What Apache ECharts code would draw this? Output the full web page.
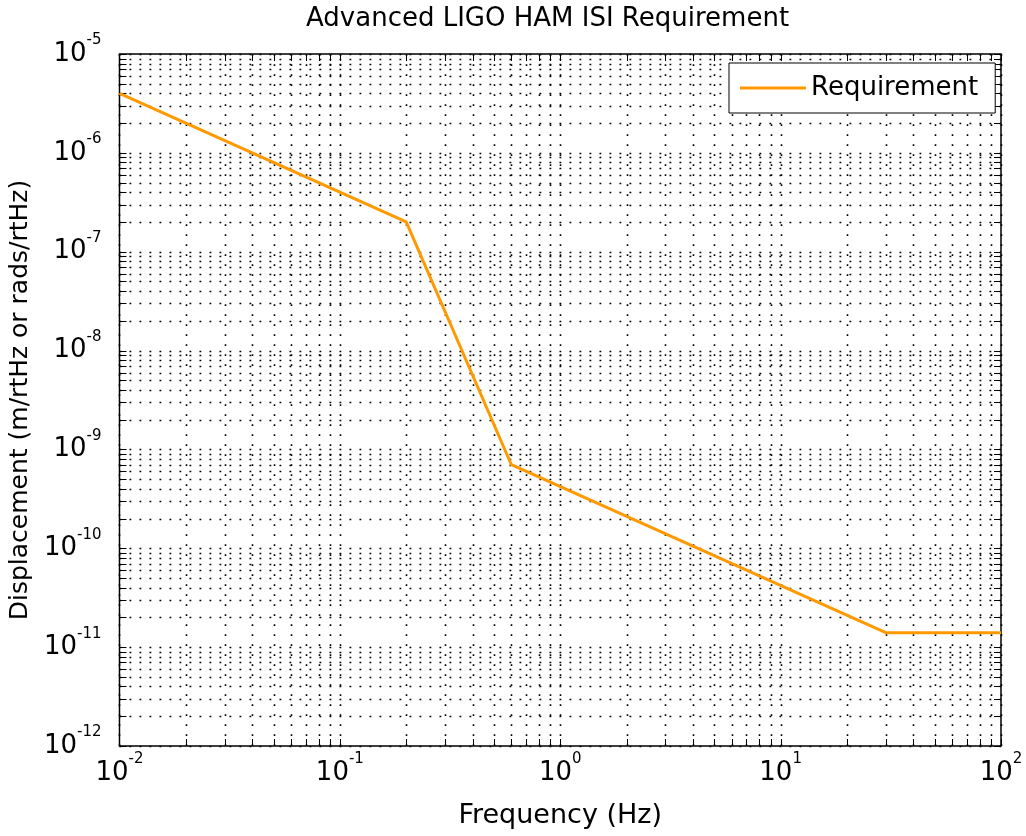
<!DOCTYPE html>
<html>
<head>
<meta charset="utf-8">
<title>Advanced LIGO HAM ISI Requirement</title>
<script src="https://cdn.jsdelivr.net/npm/echarts@6/dist/echarts.min.js"></script>
<style>
  html, body { margin: 0; padding: 0; background: #fff; }
  #chart { width: 1026px; height: 836px; }
</style>
</head>
<body>
<div id="chart"></div>
<script>
// Requirement curve: frequency (Hz) vs. displacement amplitude spectral density
const frequencyHz = [0.01, 0.2, 0.6, 30, 100];
const requirement = [4e-6, 2e-7, 7e-10, 1.4e-11, 1.4e-11];

// Decade exponents used for the tick labels on each axis
const xDecades = [-2, -1, 0, 1, 2];
const yDecades = [-12, -11, -10, -9, -8, -7, -6, -5];

const FONT = 'DejaVu Sans';
const X_MIN = Math.pow(10, xDecades[0]);
const X_MAX = Math.pow(10, xDecades[xDecades.length - 1]);
const Y_MIN = Math.pow(10, yDecades[0]);
const Y_MAX = Math.pow(10, yDecades[yDecades.length - 1]);

// Grid/tick positions: every 1..9 multiple inside each decade, plus the last decade
function decadeSteps(decades) {
  const out = [];
  for (let i = 0; i < decades.length - 1; i++) {
    for (let k = 1; k <= 9; k++) out.push(k * Math.pow(10, decades[i]));
  }
  out.push(Math.pow(10, decades[decades.length - 1]));
  return out;
}
const gridItems = [];
decadeSteps(xDecades).forEach(v => gridItems.push([v, Y_MIN, 0]));
decadeSteps(yDecades).forEach(v => gridItems.push([X_MIN, v, 1]));

const chart = echarts.init(document.getElementById('chart'));

function powerLabel(v) {
  const e = Math.round(Math.log10(v));
  return '{b|10}{s|' + e + '}';
}
const labelRich = {
  b: { fontFamily: FONT, fontSize: 26, color: '#000', lineHeight: 42 },
  s: { fontFamily: FONT, fontSize: 15, color: '#000', verticalAlign: 'top', lineHeight: 17 }
};

function renderGrid(params, api) {
  const cs = params.coordSys;
  const kind = api.value(2);
  const TICK = 7;
  const dotted = { stroke: '#000', lineWidth: 1.6, lineDash: [1.8, 8.2] };
  const solid = { stroke: '#000', lineWidth: 1 };
  const children = [];
  if (kind === 0) {
    const x = Math.round(api.coord([api.value(0), Y_MIN])[0]) + 0.5;
    const y0 = cs.y, y1 = cs.y + cs.height;
    children.push({ type: 'line', shape: { x1: x, y1: y1, x2: x, y2: y0 }, style: dotted, silent: true });
    children.push({ type: 'line', shape: { x1: x, y1: y1, x2: x, y2: y1 - TICK }, style: solid, silent: true });
    children.push({ type: 'line', shape: { x1: x, y1: y0, x2: x, y2: y0 + TICK }, style: solid, silent: true });
  } else {
    const y = Math.round(api.coord([X_MIN, api.value(1)])[1]) + 0.5;
    const x0 = cs.x, x1 = cs.x + cs.width;
    children.push({ type: 'line', shape: { x1: x0, y1: y, x2: x1, y2: y }, style: dotted, silent: true });
    children.push({ type: 'line', shape: { x1: x0, y1: y, x2: x0 + TICK, y2: y }, style: solid, silent: true });
    children.push({ type: 'line', shape: { x1: x1, y1: y, x2: x1 - TICK, y2: y }, style: solid, silent: true });
  }
  return { type: 'group', children: children };
}

chart.setOption({
  animation: false,
  backgroundColor: '#fff',
  title: {
    text: 'Advanced LIGO HAM ISI Requirement',
    left: 306,
    top: 6,
    padding: 0,
    textStyle: { fontFamily: FONT, fontSize: 26, fontWeight: 'normal', color: '#000' }
  },
  legend: {
    data: ['Requirement'],
    left: 729,
    top: 63,
    padding: [12, 17, 12, 11],
    icon: 'rect',
    itemWidth: 66,
    itemHeight: 3,
    borderColor: '#000',
    borderWidth: 1,
    backgroundColor: '#fff',
    textStyle: { fontFamily: FONT, fontSize: 26, color: '#000' }
  },
  grid: {
    left: 119, right: 25, top: 54, bottom: 90,
    show: true, borderColor: '#000', borderWidth: 1.5, backgroundColor: '#fff'
  },
  xAxis: {
    type: 'log', logBase: 10, min: X_MIN, max: X_MAX, splitNumber: 4,
    name: 'Frequency (Hz)', nameLocation: 'middle', nameGap: 56,
    nameTextStyle: { fontFamily: FONT, fontSize: 27, color: '#000' },
    axisLine: { show: false }, axisTick: { show: false }, splitLine: { show: false },
    axisLabel: { formatter: powerLabel, rich: labelRich, margin: 6 }
  },
  yAxis: {
    type: 'log', logBase: 10, min: Y_MIN, max: Y_MAX, splitNumber: 7,
    name: 'Displacement (m/rtHz or rads/rtHz)', nameLocation: 'middle', nameGap: 82,
    nameTextStyle: { fontFamily: FONT, fontSize: 25, color: '#000' },
    axisLine: { show: false }, axisTick: { show: false }, splitLine: { show: false },
    axisLabel: { formatter: powerLabel, rich: labelRich, margin: 18 }
  },
  series: [
    {
      type: 'custom',
      name: 'grid',
      renderItem: renderGrid,
      data: gridItems,
      encode: { x: 0, y: 1 },
      z: 1,
      silent: true,
      clip: false
    },
    {
      type: 'line',
      name: 'Requirement',
      data: frequencyHz.map((f, i) => [f, requirement[i]]),
      showSymbol: false,
      symbol: 'none',
      lineStyle: { color: '#ff9900', width: 3 },
      itemStyle: { color: '#ff9900' },
      z: 3
    }
  ]
});
</script>
</body>
</html>
